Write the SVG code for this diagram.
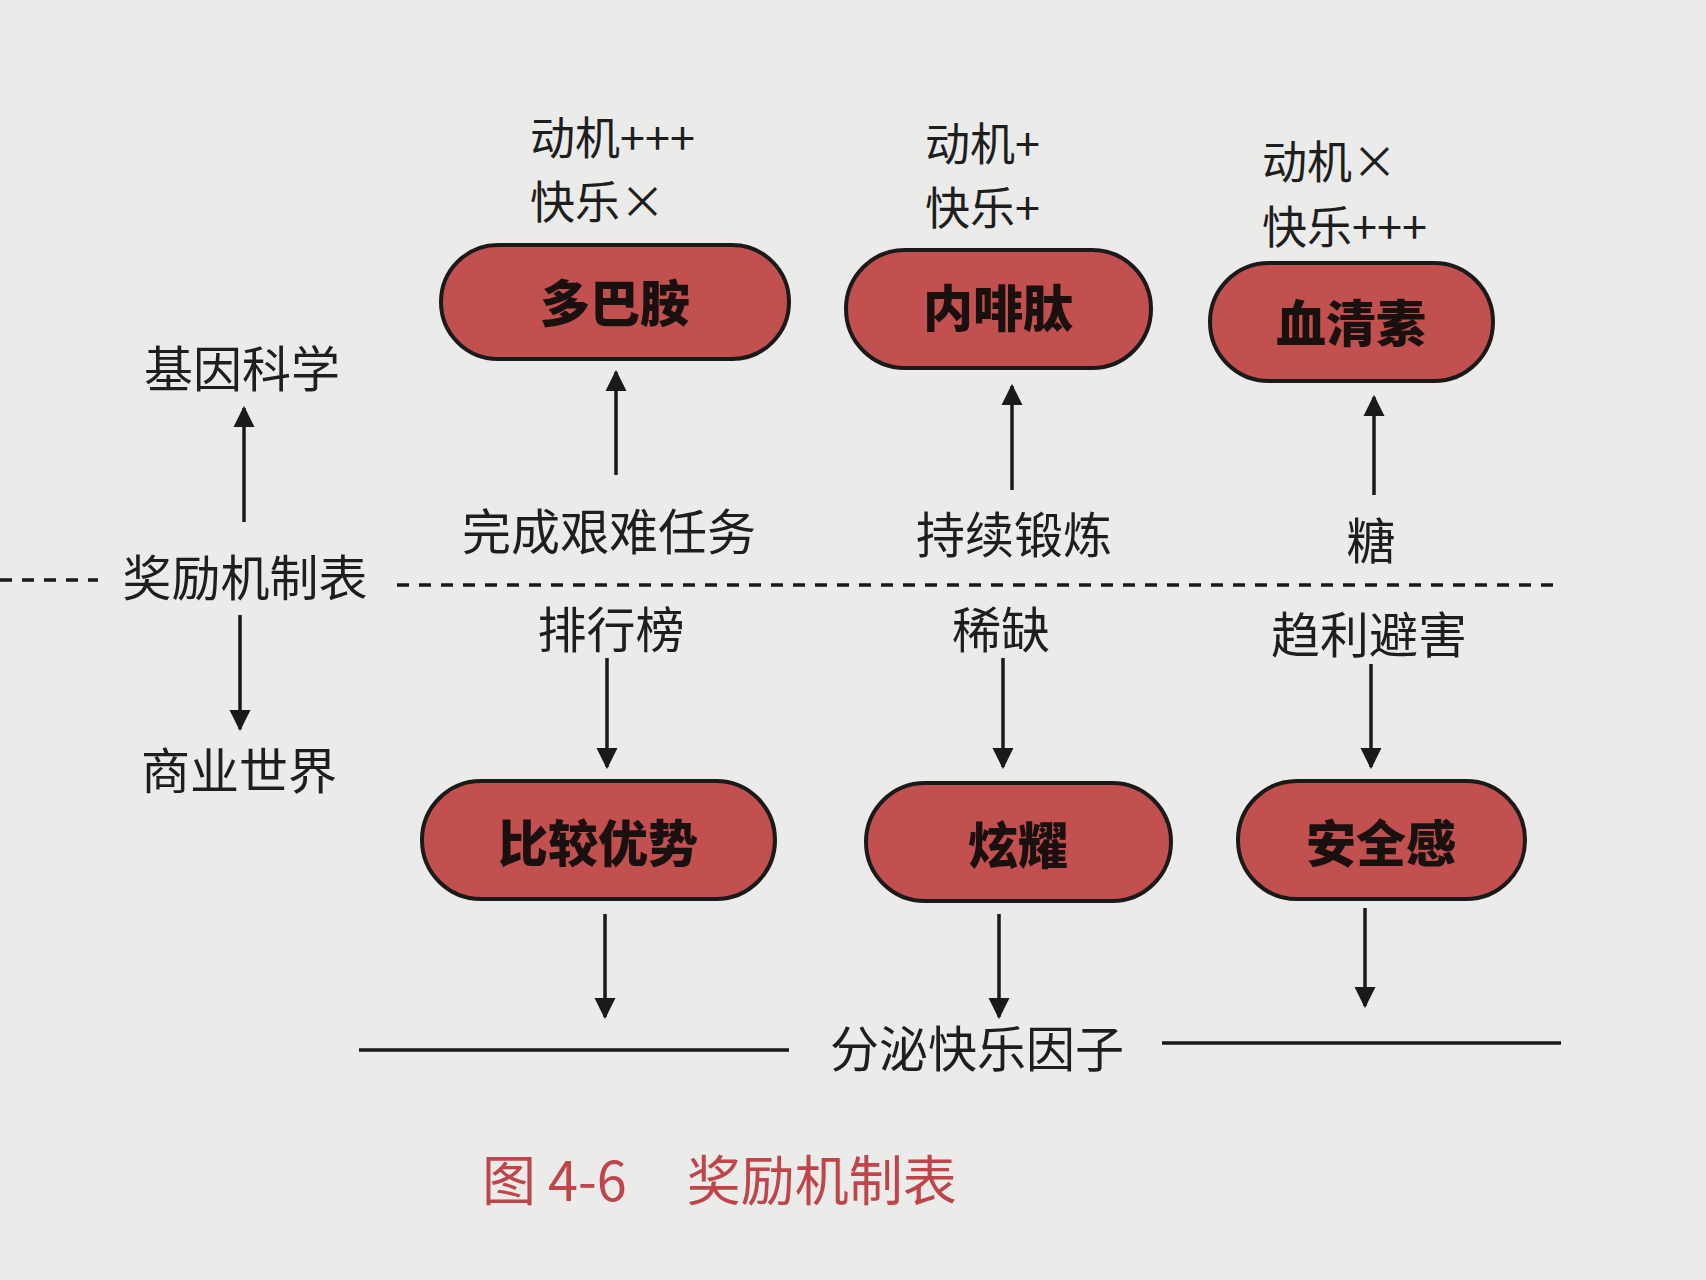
<svg xmlns="http://www.w3.org/2000/svg" width="1706" height="1280" viewBox="0 0 1706 1280">
<defs>
<marker id="ah" viewBox="0 0 10 10" refX="9" refY="5" markerWidth="6" markerHeight="7" orient="auto-start-reverse" markerUnits="strokeWidth"><path d="M0,0 L10,5 L0,10 z" fill="#1a1a1a"/></marker>
<style>
text{font-family:"Noto Sans CJK SC","Liberation Serif",serif;fill:#1e1e1e;font-size:49px;text-anchor:middle;dominant-baseline:central}
.s{font-size:45px;text-anchor:start}
.n rect{fill:#c1504f;stroke:#1a1a1a;stroke-width:4}
.n text{font-weight:900;font-size:50px;fill:#1a1010}
.ln{stroke:#1a1a1a;stroke-width:3.5;fill:none}
.ar{stroke:#1a1a1a;stroke-width:3.5;fill:none;marker-end:url(#ah)}
</style>
</defs>
<rect width="1706" height="1280" fill="#ebebea"/>
<g id="n1" class="n"><rect x="441" y="245" width="348" height="114" rx="57"/><text x="615" y="300">多巴胺</text></g>
<g id="n2" class="n"><rect x="846" y="250" width="305" height="118" rx="59"/><text x="998" y="305">内啡肽</text></g>
<g id="n3" class="n"><rect x="1210" y="263" width="283" height="118" rx="59"/><text x="1351" y="320">血清素</text></g>
<g id="n4" class="n"><rect x="422" y="781" width="353" height="118" rx="59"/><text x="598" y="840">比较优势</text></g>
<g id="n5" class="n"><rect x="866" y="783" width="305" height="118" rx="59"/><text x="1018" y="842">炫耀</text></g>
<g id="n6" class="n"><rect x="1238" y="781" width="287" height="118" rx="59"/><text x="1381" y="840">安全感</text></g>
<g id="labels">
<text class="s" x="530" y="135">动机+++</text>
<text class="s" x="530" y="199">快乐×</text>
<text class="s" x="925" y="141">动机+</text>
<text class="s" x="925" y="205">快乐+</text>
<text class="s" x="1262" y="159">动机×</text>
<text class="s" x="1262" y="224">快乐+++</text>
<text x="242" y="365">基因科学</text>
<text x="245" y="574">奖励机制表</text>
<text x="239" y="767">商业世界</text>
<text x="609" y="528">完成艰难任务</text>
<text x="1014" y="531">持续锻炼</text>
<text x="1371" y="537">糖</text>
<text x="611" y="626">排行榜</text>
<text x="1001" y="626">稀缺</text>
<text x="1369" y="631">趋利避害</text>
<text x="977" y="1045">分泌快乐因子</text>
<text x="482" y="1177" style="text-anchor:start;fill:#c0454a;font-size:54px;font-family:'Noto Sans CJK SC',sans-serif">图 4-6<tspan dx="60">奖励机制表</tspan></text>
</g>
<g id="connectors">
<path class="ln" d="M0 580 H98 M397 585 H1561" stroke-dasharray="12 10"/>
<path class="ar" d="M244 522 V408"/>
<path class="ar" d="M240 615 V729"/>
<path class="ar" d="M616 475 V372"/>
<path class="ar" d="M1012 490 V386"/>
<path class="ar" d="M1374 495 V397"/>
<path class="ar" d="M607 658 V767"/>
<path class="ar" d="M1003 658 V767"/>
<path class="ar" d="M1371 664 V767"/>
<path class="ar" d="M605 914 V1017"/>
<path class="ar" d="M999 914 V1017"/>
<path class="ar" d="M1365 908 V1006"/>
<path class="ln" d="M359 1050 H789 M1162 1043 H1561"/>
</g>
</svg>
